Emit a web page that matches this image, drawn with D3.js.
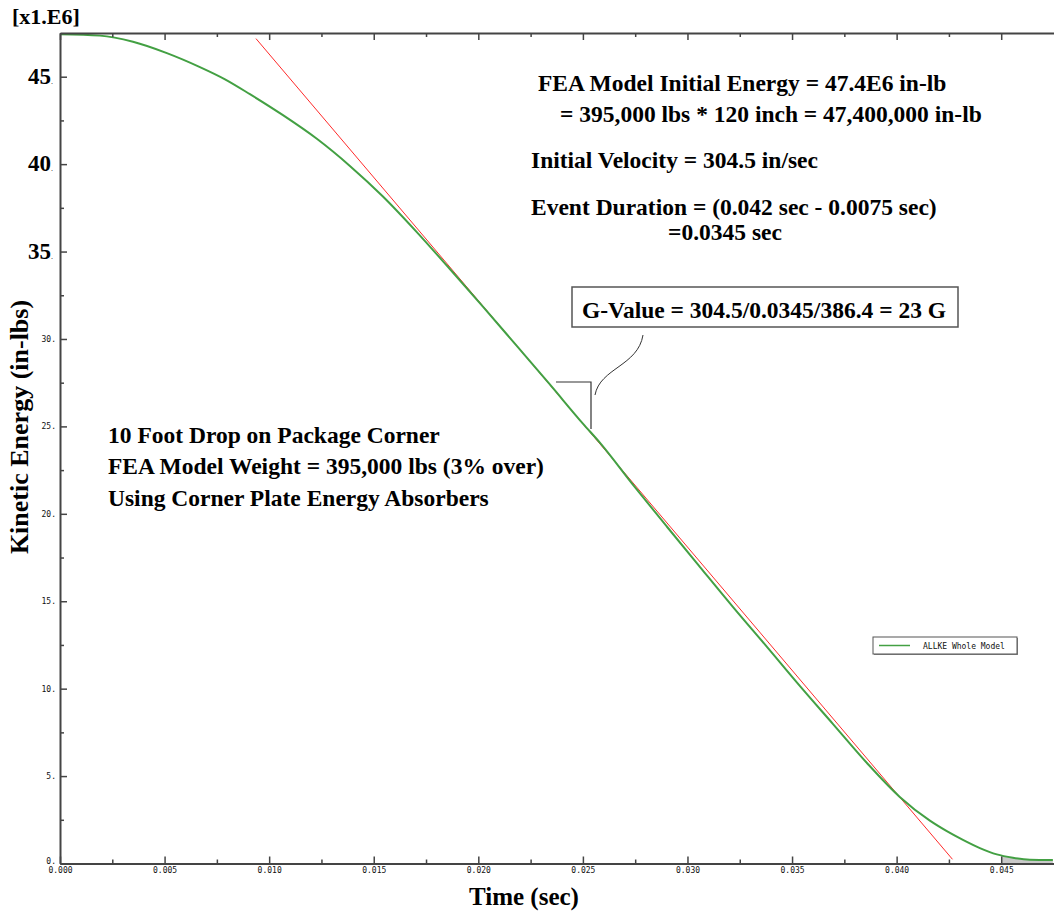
<!DOCTYPE html>
<html>
<head>
<meta charset="utf-8">
<script src="https://cdn.jsdelivr.net/npm/d3@7"></script>
<style>
  body { margin: 0; background: #fff; }
  svg { display: block; }
  .big { font-family: "Liberation Serif", "Times New Roman", serif; font-weight: bold; fill: #000; }
  .tick-small { font-family: "DejaVu Sans Mono", monospace; font-size: 8px; fill: #111; }
</style>
</head>
<body>
<div id="chart"></div>
<script>
(function () {
    // Kinetic energy curve (time in sec, energy in 1e6 in-lb)
    var timeSec = [0, 0.00191, 0.00349, 0.00511, 0.00669, 0.00789, 0.00908, 0.01066, 0.01228,
        0.01386, 0.01544, 0.01707, 0.01864, 0.02022, 0.02184, 0.02342, 0.02500, 0.02581, 0.02739,
        0.02902, 0.03059, 0.03217, 0.03380, 0.03537, 0.03695, 0.03858, 0.04015, 0.04159, 0.04240,
        0.04317, 0.04398, 0.04479, 0.04556, 0.04637, 0.04747];
    var kineticE6 = [47.43, 47.35, 47.00, 46.35, 45.55, 44.85, 44.00, 42.80, 41.45,
        39.90, 38.15, 36.10, 34.00, 31.85, 29.60, 27.40, 25.16, 24.07, 21.67,
        19.26, 16.97, 14.68, 12.39, 10.16, 7.99, 5.75, 3.81, 2.45, 1.85,
        1.35, 0.88, 0.52, 0.33, 0.22, 0.20];

    // Red tangent line end points
    var tangentT = [0.00937, 0.04267];
    var tangentE = [47.18, 0.24];

    var xTicks = [0, 0.005, 0.010, 0.015, 0.020, 0.025, 0.030, 0.035, 0.040, 0.045];
    var yTicks = [0, 5, 10, 15, 20, 25, 30, 35, 40, 45];
    var yBigTicks = [35, 40, 45];
    var shadeFrom = 0.045;

    var annotations = [
        { text: "FEA Model Initial Energy = 47.4E6 in-lb", x: 538, y: 91 },
        { text: "= 395,000 lbs * 120 inch = 47,400,000 in-lb", x: 560, y: 122 },
        { text: "Initial Velocity = 304.5 in/sec", x: 531, y: 168 },
        { text: "Event Duration = (0.042 sec - 0.0075 sec)", x: 531, y: 215 },
        { text: "=0.0345 sec", x: 668, y: 240 },
        { text: "10 Foot Drop on Package Corner", x: 108, y: 443 },
        { text: "FEA Model Weight = 395,000 lbs (3% over)", x: 108, y: 474 },
        { text: "Using Corner Plate Energy Absorbers", x: 108, y: 506 }
    ];
    var gValueText = "G-Value = 304.5/0.0345/386.4 = 23 G";
    var legendLabel = "ALLKE Whole Model";

    var W = 1055, H = 911;
    var GREEN = "#43a043", RED = "#ff2a2a", AXIS = "#444";

    var svg = d3.select("#chart").append("svg").attr("width", W).attr("height", H);

    var x = d3.scaleLinear().domain([0, 0.0475]).range([60, 1053.5]);
    var y = d3.scaleLinear().domain([0, 47.5]).range([863.5, 33]);

    var data = timeSec.map(function (t, i) { return { t: t, e: kineticE6[i] }; });

    svg.append("defs").append("clipPath").attr("id", "plot-clip")
        .append("rect").attr("x", 60).attr("y", 33).attr("width", 995).attr("height", 831);

    var plot = svg.append("g").attr("clip-path", "url(#plot-clip)");

    var line = d3.line().x(function (d) { return x(d.t); }).y(function (d) { return y(d.e); })
        .curve(d3.curveMonotoneX);

    // Shaded region past 0.045 sec (start point interpolated on the curve)
    var i1 = d3.bisector(function (d) { return d.t; }).left(data, shadeFrom);
    var a = data[i1 - 1], b = data[i1];
    var eAt = a.e + (b.e - a.e) * (shadeFrom - a.t) / (b.t - a.t);
    var shade = [{ t: shadeFrom, e: eAt }].concat(data.slice(i1));
    plot.append("path")
        .datum(shade)
        .attr("fill", "#c9c9c9")
        .attr("d", d3.area().x(function (d) { return x(d.t); }).y0(y(0)).y1(function (d) { return y(d.e); })
            .curve(d3.curveMonotoneX));

    // Tangent line
    plot.append("line")
        .attr("x1", x(tangentT[0])).attr("y1", y(tangentE[0]))
        .attr("x2", x(tangentT[1])).attr("y2", y(tangentE[1]))
        .attr("stroke", RED).attr("stroke-width", 1);

    // Energy curve
    plot.append("path")
        .datum(data)
        .attr("fill", "none")
        .attr("stroke", GREEN)
        .attr("stroke-width", 2)
        .attr("d", line);

    // Minor ticks
    var xMinor = xTicks.map(function (v) { return v + 0.0025; }).filter(function (v) { return v < 0.0475; });
    var yMinor = yTicks.map(function (v) { return v + 2.5; }).filter(function (v) { return v < 47.5; });

    function styleAxis(g) {
        g.select(".domain").attr("stroke", AXIS).attr("stroke-width", 2);
        g.selectAll(".tick line").attr("stroke", AXIS).attr("stroke-width", 1.5);
    }

    // Bottom axis
    var xAxisG = svg.append("g").attr("transform", "translate(0," + 863.5 + ")")
        .call(d3.axisBottom(x).tickValues(xTicks).tickSize(-7).tickPadding(4).tickSizeOuter(0)
            .tickFormat(d3.format(".3f")));
    styleAxis(xAxisG);
    xAxisG.selectAll("text").attr("class", "tick-small").attr("font-size", null).attr("font-family", null);
    svg.append("g").attr("transform", "translate(0," + 863.5 + ")")
        .call(d3.axisBottom(x).tickValues(xMinor).tickSize(-4).tickFormat("").tickSizeOuter(0))
        .call(styleAxis).select(".domain").remove();

    // Top axis
    svg.append("g").attr("transform", "translate(0," + 33 + ")")
        .call(d3.axisTop(x).tickValues(xTicks).tickSize(-7).tickFormat("").tickSizeOuter(0))
        .call(styleAxis);
    svg.append("g").attr("transform", "translate(0," + 33 + ")")
        .call(d3.axisTop(x).tickValues(xMinor).tickSize(-4).tickFormat("").tickSizeOuter(0))
        .call(styleAxis).select(".domain").remove();

    // Left axis
    var yAxisG = svg.append("g").attr("transform", "translate(" + 60 + ",0)")
        .call(d3.axisLeft(y).tickValues(yTicks).tickSize(-7).tickPadding(4).tickSizeOuter(0)
            .tickFormat(function (d) { return d + "."; }));
    styleAxis(yAxisG);
    yAxisG.selectAll("text").attr("class", "tick-small").attr("font-size", null).attr("font-family", null)
        .attr("dy", function (d) { return d === 0 ? "-0.05em" : "0.3em"; });
    yAxisG.selectAll(".tick")
        .filter(function (d) { return yBigTicks.indexOf(d) >= 0; })
        .select("text")
        .attr("class", "big")
        .style("font-size", "23px")
        .attr("dy", "0.28em")
        .attr("x", -7)
        .text(null)
        .call(function (t) {
            t.append("tspan").text(function (d) { return d; });
            t.append("tspan").style("font-size", "8px").style("font-weight", "normal").text(".");
        });
    svg.append("g").attr("transform", "translate(" + 60 + ",0)")
        .call(d3.axisLeft(y).tickValues(yMinor).tickSize(-4).tickFormat("").tickSizeOuter(0))
        .call(styleAxis).select(".domain").remove();

    // Axis titles
    svg.append("text").attr("class", "big").attr("x", 12).attr("y", 24)
        .style("font-size", "22px").text("[x1.E6]");
    svg.append("text").attr("class", "big").attr("text-anchor", "middle")
        .attr("x", 524).attr("y", 905).style("font-size", "25px").text("Time (sec)");
    svg.append("text").attr("class", "big").attr("text-anchor", "middle")
        .attr("transform", "translate(28,427) rotate(-90)")
        .style("font-size", "26px").text("Kinetic Energy (in-lbs)");

    // Annotation text
    svg.append("g").selectAll("text")
        .data(annotations)
        .join("text")
        .attr("class", "big")
        .attr("x", function (d) { return d.x; })
        .attr("y", function (d) { return d.y; })
        .style("font-size", "23.5px")
        .text(function (d) { return d.text; });

    // G-Value box with callout and bracket
    svg.append("rect").attr("x", 572).attr("y", 287).attr("width", 386).attr("height", 40)
        .attr("fill", "#fff").attr("stroke", "#555").attr("stroke-width", 1.5);
    svg.append("text").attr("class", "big").attr("x", 582).attr("y", 318)
        .style("font-size", "23.5px").text(gValueText);
    svg.append("path").attr("d", "M643,335 C638,366 600,368 595,395")
        .attr("fill", "none").attr("stroke", "#333").attr("stroke-width", 1);
    svg.append("path").attr("d", "M556,382 H591 V429")
        .attr("fill", "none").attr("stroke", "#333").attr("stroke-width", 1.2);

    // Legend
    var leg = svg.append("g");
    leg.append("rect").attr("x", 874).attr("y", 638).attr("width", 144).attr("height", 17).attr("fill", "#888");
    leg.append("rect").attr("x", 873).attr("y", 637).attr("width", 144).attr("height", 17)
        .attr("fill", "#fff").attr("stroke", "#555").attr("stroke-width", 1);
    leg.append("line").attr("x1", 879).attr("x2", 910).attr("y1", 645.5).attr("y2", 645.5)
        .attr("stroke", GREEN).attr("stroke-width", 1.5);
    leg.append("text").attr("class", "tick-small").attr("x", 923).attr("y", 648.5)
        .style("font-size", "8px").text(legendLabel);
}());
</script>
</body>
</html>
